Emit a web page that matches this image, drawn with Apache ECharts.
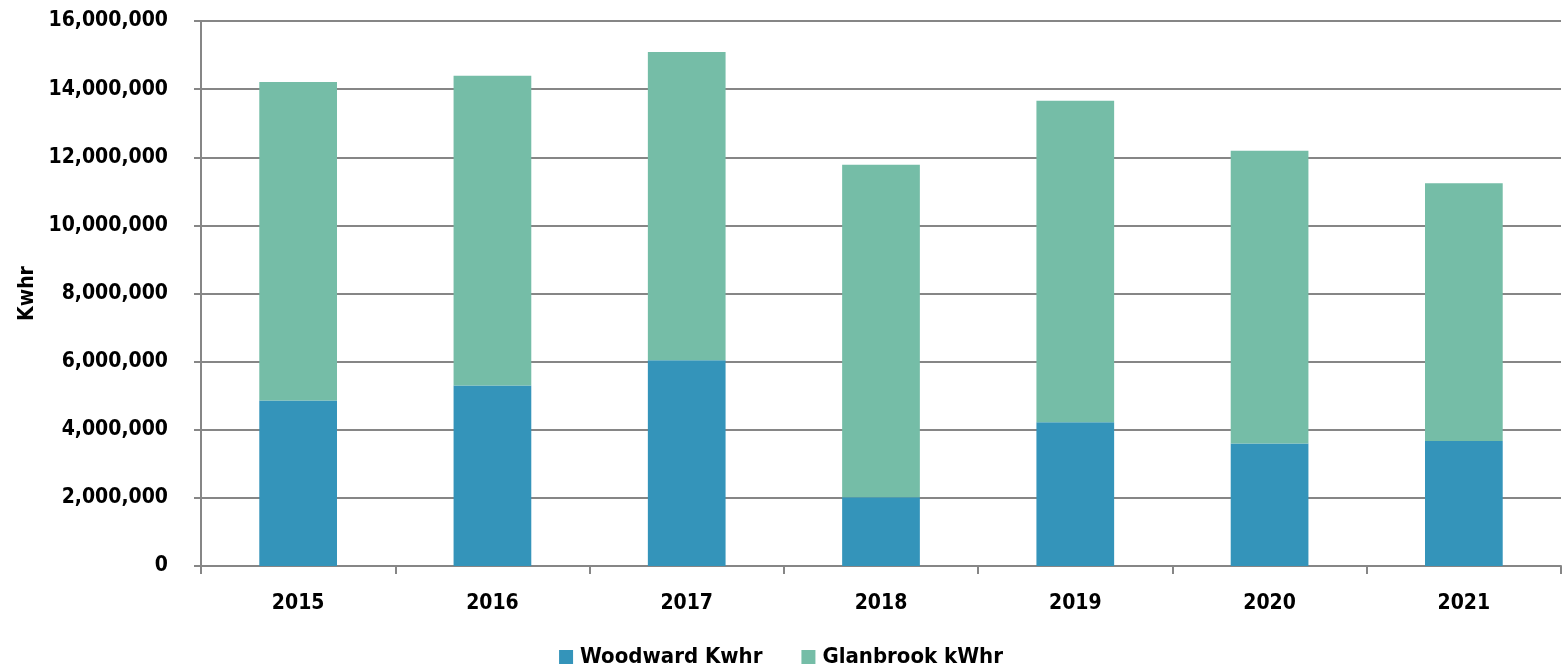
<!DOCTYPE html>
<html><head><meta charset="utf-8">
<script src="https://cdn.jsdelivr.net/npm/echarts@6/dist/echarts.min.js"></script>
<style>html,body{margin:0;padding:0;background:#fff}#c{width:1562px;height:669px}</style>
</head><body><div id="c"></div>
<script>
const years = ['2015','2016','2017','2018','2019','2020','2021'];
const woodward = [4860000, 5300000, 6040000, 2020000, 4220000, 3600000, 3670000];
const glanbrookTotal = [14210000, 14390000, 15090000, 11780000, 13660000, 12190000, 11240000];
const glanbrook = glanbrookTotal.map((t, i) => t - woodward[i]);
const yTicks = {min: 0, max: 16000000, interval: 2000000};

const font = '"DejaVu Sans Condensed", "DejaVu Sans", sans-serif';
const chart = echarts.init(document.getElementById('c'));
chart.setOption({
  animation: false,
  grid: {left: 201, right: 1, top: 21, bottom: 103},
  legend: {
    bottom: -4, left: 'center', itemWidth: 14, itemHeight: 14, itemGap: 39, icon: 'rect',
    textStyle: {fontFamily: font, fontWeight: 'bold', fontSize: 22, color: '#000', padding: [0, 0, 0, 2]},
    data: ['Woodward Kwhr', 'Glanbrook kWhr']
  },
  xAxis: {
    type: 'category', data: years,
    axisLine: {lineStyle: {color: '#868686', width: 2}},
    axisTick: {show: true, length: 8, lineStyle: {color: '#868686', width: 2}},
    axisLabel: {fontFamily: font, fontWeight: 'bold', fontSize: 21, color: '#000', margin: 27}
  },
  yAxis: {
    type: 'value', min: yTicks.min, max: yTicks.max, interval: yTicks.interval,
    name: 'Kwhr', nameLocation: 'middle', nameGap: 162, nameRotate: 90,
    nameTextStyle: {fontFamily: font, fontWeight: 'bold', fontSize: 21, color: '#000'},
    axisLine: {show: true, lineStyle: {color: '#868686', width: 2}},
    axisTick: {show: true, length: 7, lineStyle: {color: '#868686', width: 2}},
    splitLine: {lineStyle: {color: '#868686', width: 2}},
    axisLabel: {fontFamily: font, fontWeight: 'bold', fontSize: 21, color: '#000', margin: 33,
      formatter: v => v.toLocaleString('en-US')}
  },
  series: [
    {name: 'Woodward Kwhr', type: 'bar', stack: 't', data: woodward, barWidth: '40%',
      itemStyle: {color: '#3494BA'}},
    {name: 'Glanbrook kWhr', type: 'bar', stack: 't', data: glanbrook, barWidth: '40%',
      itemStyle: {color: '#75BDA7'}}
  ]
});
</script></body></html>
